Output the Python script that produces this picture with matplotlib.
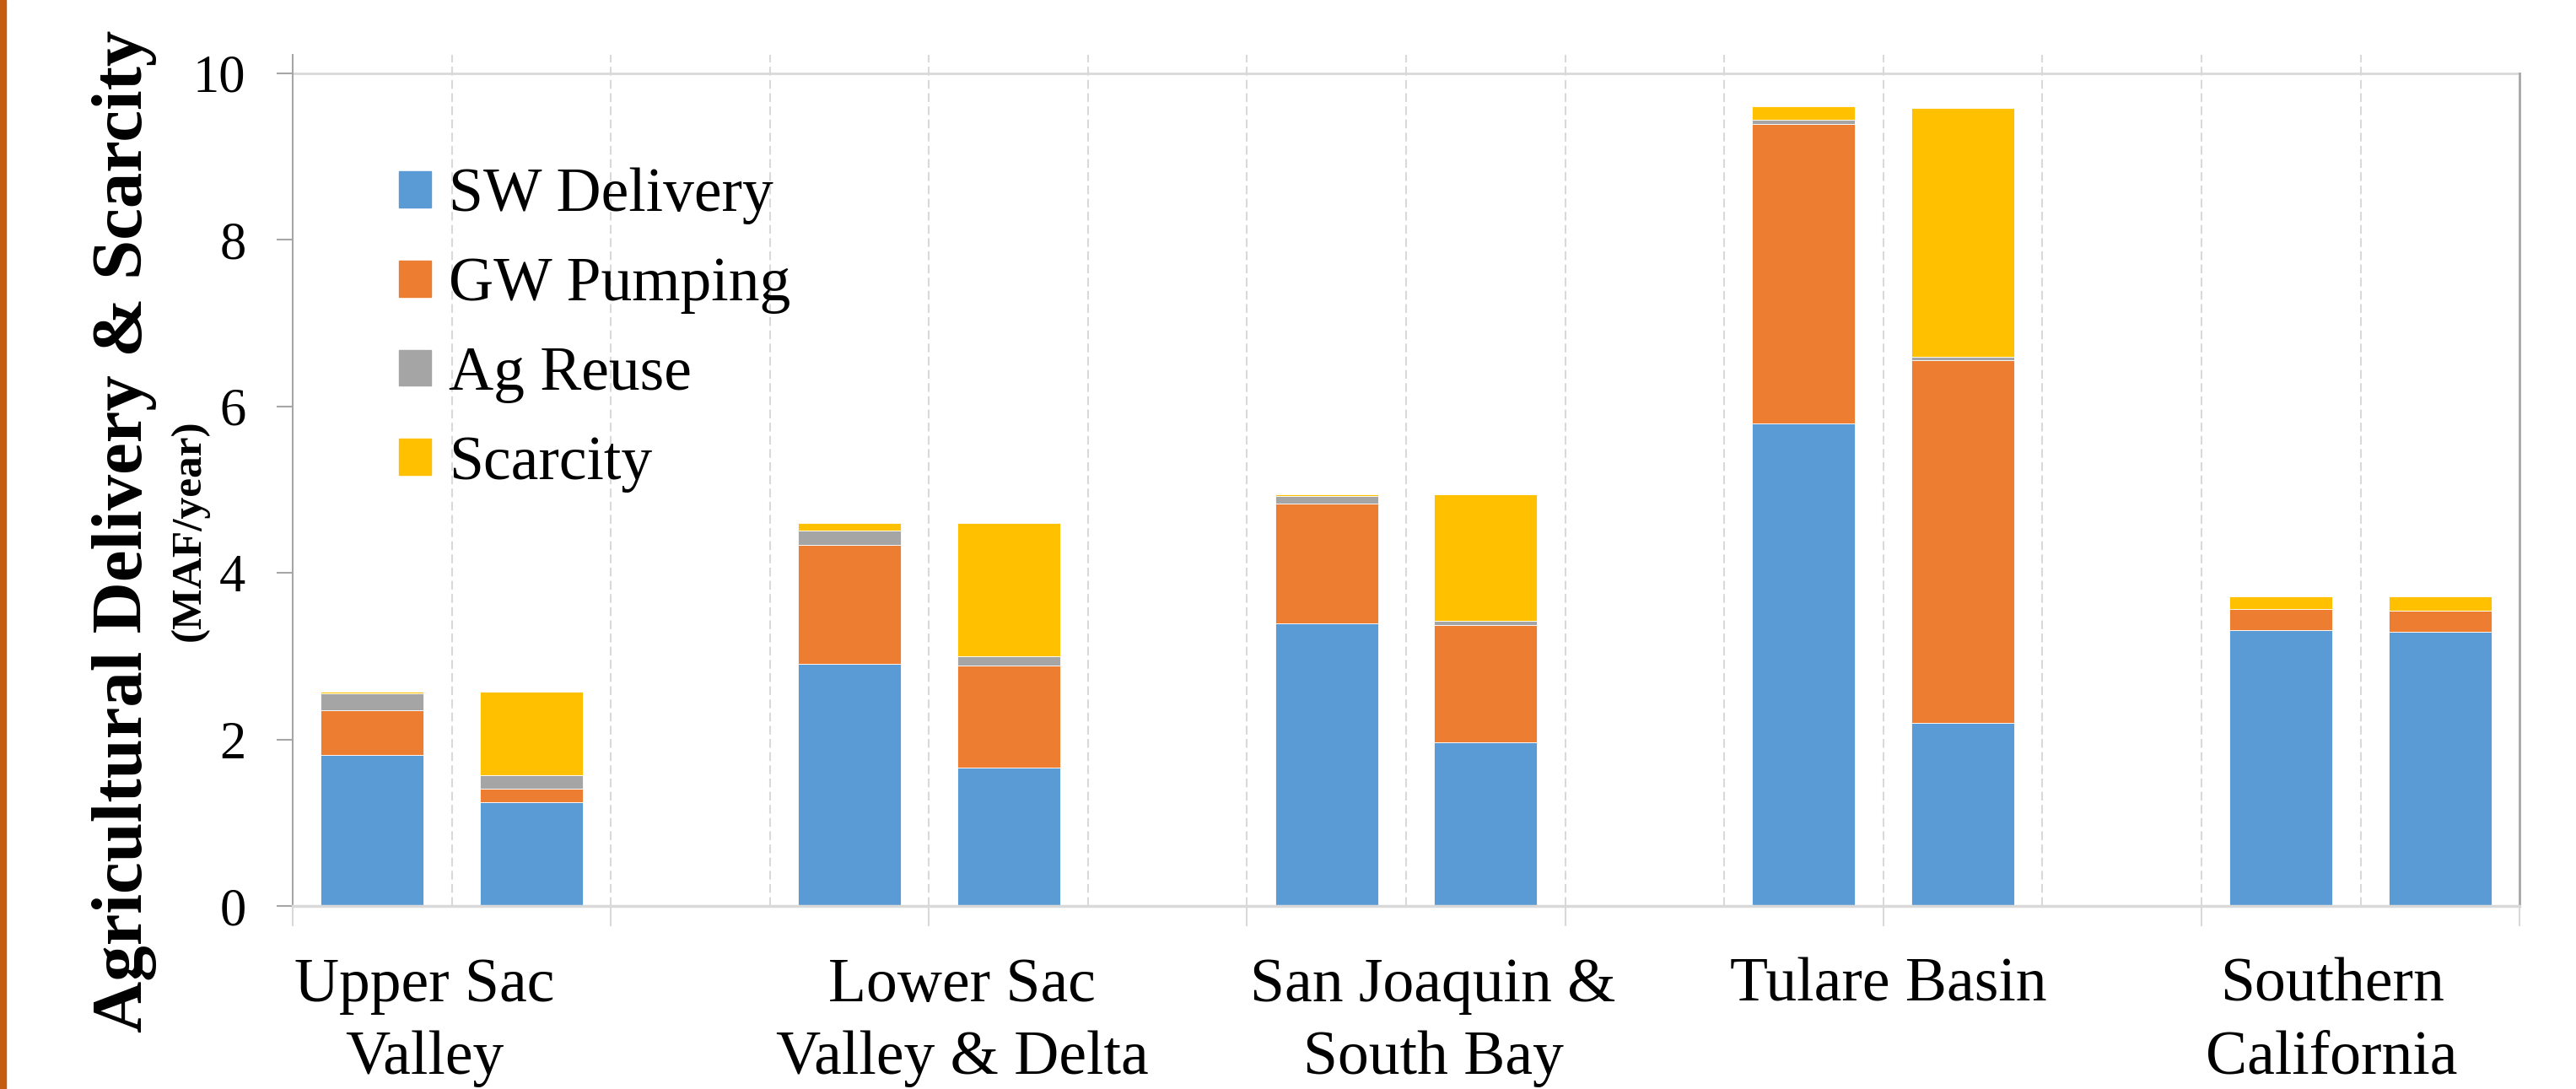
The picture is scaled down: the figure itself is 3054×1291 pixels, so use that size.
import matplotlib
matplotlib.use("Agg")
import matplotlib.pyplot as plt
import matplotlib.patches as mpatches
import matplotlib.transforms as mtransforms
import numpy as np

plt.rcParams['font.family'] = ['Liberation Serif', 'DejaVu Serif']

# regions (two bars each: base case and the alternative)
regions = ["Upper Sac\nValley", "Lower Sac\nValley & Delta", "San Joaquin &\nSouth Bay",
           "Tulare Basin", "Southern\nCalifornia"]
label_pos = [0.83, 4.21, 7.17, 10.03, 12.82]   # label centres on the slot axis

# bar slots on a 14-slot category axis
slots = [0.5, 1.5, 3.5, 4.5, 6.5, 7.5, 9.5, 10.5, 12.5, 13.5]

# MAF/year
sw_delivery = [1.81, 1.25, 2.91, 1.66, 3.39, 1.97, 5.79, 2.20, 3.31, 3.29]
gw_pumping  = [0.54, 0.16, 1.43, 1.23, 1.44, 1.40, 3.60, 4.35, 0.26, 0.26]
ag_reuse    = [0.20, 0.16, 0.17, 0.11, 0.09, 0.06, 0.05, 0.04, 0.00, 0.00]
scarcity    = [0.02, 1.00, 0.09, 1.60, 0.02, 1.51, 0.16, 2.99, 0.15, 0.17]

series = [("SW Delivery", sw_delivery, "#5B9BD5"),
          ("GW Pumping", gw_pumping, "#ED7D31"),
          ("Ag Reuse", ag_reuse, "#A5A5A5"),
          ("Scarcity", scarcity, "#FFC000")]

fig = plt.figure(figsize=(30.54, 12.91), dpi=100)
ax = fig.add_axes([0.1136, 0.1679, 0.8645, 0.7818])

# dashed slot separators
for s in range(1, 14):
    ax.axvline(s, color="#d9d9d9", lw=1.5, ls=(0, (5, 2.5)), zorder=0)

bottom = np.zeros(len(slots))
handles = []
for name, vals, col in series:
    ax.bar(slots, vals, width=0.647, bottom=bottom, color=col,
           edgecolor="white", linewidth=0.6, zorder=2)
    bottom += np.array(vals)
    handles.append(mpatches.Patch(color=col, label=name))

ax.set_xlim(0, 14)
ax.set_ylim(0, 10.22)

# top line at 10 and right border
ax.plot([0, 14], [10, 10], color="#d9d9d9", lw=2, zorder=1, clip_on=False)
ax.plot([14, 14], [0, 10], color="#a6a6a6", lw=2, zorder=1, clip_on=False)

for sp in ["top", "right"]:
    ax.spines[sp].set_visible(False)
ax.spines["left"].set_color("#a6a6a6")
ax.spines["left"].set_linewidth(1.5)
ax.spines["bottom"].set_color("#d9d9d9")
ax.spines["bottom"].set_linewidth(2.5)

ax.set_yticks([0, 2, 4, 6, 8, 10])
ax.set_yticklabels(["0", "2", "4", "6", "8", "10"])
ax.tick_params(axis="y", direction="out", length=14, width=1.5, color="#a6a6a6",
               labelsize=45, pad=26)
ax.set_xticks(np.arange(0, 15, 2))
ax.set_xticklabels([])
ax.tick_params(axis="x", direction="out", length=17, width=1.5, color="#d9d9d9")

# category labels, one text per line
trans = mtransforms.blended_transform_factory(ax.transData, fig.transFigure)
for lab, xp in zip(regions, label_pos):
    for i, line in enumerate(lab.split("\n")):
        ax.text(xp, 0.0806 - i * 0.0666, line, transform=trans, ha="center",
                va="baseline", fontsize=53, clip_on=False)

# axis titles
fig.text(168 / 3054, 1 - 630 / 1291, "Agricultural Delivery & Scarcity", rotation=90,
         ha="center", va="baseline", fontsize=61, fontweight="bold", rotation_mode="anchor")
fig.text(237 / 3054, 1 - 629 / 1291, "(MAF/year)", rotation=90,
         ha="center", va="baseline", fontsize=37, fontweight="bold", rotation_mode="anchor")

leg = ax.legend(handles=handles, loc="upper left", bbox_to_anchor=(473 / 3054, 1 - 199 / 1291),
                bbox_transform=fig.transFigure, frameon=False, fontsize=53,
                handlelength=0.52, handleheight=0.52, handletextpad=0.28,
                labelspacing=0.52, borderpad=0, borderaxespad=0)

# orange strip on the left edge
fig.patches.append(mpatches.Rectangle((0, 0), 7 / 3054, 1, transform=fig.transFigure,
                                      color="#C55A11", zorder=0))

fig.savefig("out.png", dpi=100)
